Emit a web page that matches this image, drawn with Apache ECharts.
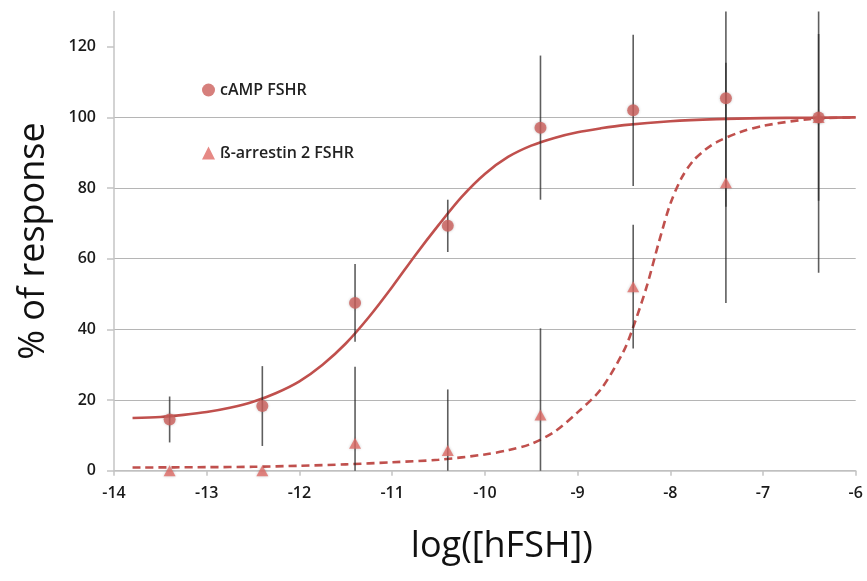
<!DOCTYPE html>
<html>
<head>
<meta charset="utf-8">
<script src="https://cdn.jsdelivr.net/npm/echarts@6/dist/echarts.min.js"></script>
<style>
html,body{margin:0;padding:0;background:#fff;}
#c{width:867px;height:581px;}
</style>
</head>
<body>
<div id="c"></div>
<script>
// Data
const doseX = [-13.4, -12.4, -11.4, -10.4, -9.4, -8.4, -7.4, -6.4];
const campMean = [14.5, 18.3, 47.5, 69.3, 97.1, 102.0, 105.4, 100.0];
const campErr  = [6.5, 11.3, 11.0, 7.4, 20.4, 21.4, 30.7, 23.6];
const arrMean  = [0, 0, 7.8, 5.7, 15.8, 52.1, 81.5, 100.0];
const arrErr   = [0, 0, 21.6, 17.3, 24.5, 17.5, 34.0, 44.0];

// fitted curves
const campFitX = [-13.8, -13.5, -13.25, -13.0, -12.75, -12.5, -12.25, -12.0, -11.75, -11.5, -11.25, -11.0, -10.75, -10.5, -10.25, -10.0, -9.75, -9.5, -9.25, -9.0, -8.75, -8.5, -8.0, -7.5, -7.0, -6.5, -6.0];
const campFitY = [14.9, 15.2, 15.8, 16.6, 17.8, 19.5, 22.0, 25.3, 30.0, 36.0, 43.5, 52.0, 61.0, 69.5, 77.5, 84.0, 88.8, 92.0, 94.2, 95.8, 96.9, 97.8, 98.9, 99.5, 99.8, 99.9, 100.0];
const arrFitX = [-13.8, -13.0, -12.5, -12.0, -11.5, -11.0, -10.5, -10.0, -9.75, -9.5, -9.25, -9.0, -8.75, -8.5, -8.375, -8.25, -8.125, -8.0, -7.875, -7.75, -7.625, -7.5, -7.25, -7.0, -6.5, -6.0];
const arrFitY = [0.9, 1.0, 1.1, 1.4, 1.8, 2.4, 3.1, 4.6, 5.8, 7.6, 11.0, 16.5, 23.0, 34.0, 42.5, 52.5, 64.5, 75.5, 83.0, 87.8, 90.8, 93.0, 95.8, 97.6, 99.5, 100.0];

const yTicks = [0, 20, 40, 60, 80, 100, 120];
const seriesNames = ['cAMP FSHR', 'ß-arrestin 2 FSHR'];

const Y_MIN = 0, Y_MAX = 130;
const zip = (a, b) => a.map((v, i) => [v, b[i]]);

function errData(means, errs) {
  return doseX.map((x, i) => [x, means[i] - errs[i], means[i] + errs[i]]);
}

function errRender(params, api) {
  const x = api.value(0);
  const lo = Math.max(Y_MIN, api.value(1));
  const hi = Math.min(Y_MAX, api.value(2));
  if (hi <= lo) return null;
  const p1 = api.coord([x, lo]);
  const p2 = api.coord([x, hi]);
  return {
    type: 'line',
    shape: { x1: p1[0], y1: p1[1], x2: p2[0], y2: p2[1] },
    style: { stroke: 'rgba(40,40,40,0.75)', lineWidth: 1.6 }
  };
}

const chart = echarts.init(document.getElementById('c'));
const FONT = '"Open Sans", "Noto Sans", sans-serif';
chart.setOption({
  animation: false,
  backgroundColor: '#fff',
  textStyle: { fontFamily: FONT },
  grid: { left: 114, right: 11.3, top: 11.4, bottom: 110.3 },
  legend: {
    orient: 'vertical',
    left: 197,
    top: 77,
    itemGap: 47,
    itemWidth: 13,
    itemHeight: 13,
    data: [
      { name: seriesNames[0], icon: 'circle' },
      { name: seriesNames[1], icon: 'triangle' }
    ],
    textStyle: { fontFamily: FONT, fontSize: 16, color: '#222', fontWeight: 600 }
  },
  xAxis: {
    type: 'value',
    min: -14, max: -6, interval: 1,
    name: 'log([hFSH])',
    nameLocation: 'middle',
    nameGap: 58,
    nameTextStyle: { fontFamily: FONT, fontSize: 36, color: '#111', padding: [0, 0, 0, 34] },
    axisLine: { show: true, onZero: false, lineStyle: { color: '#c4c4c4', width: 1.5 } },
    axisTick: { show: true, length: 5, lineStyle: { color: '#c4c4c4', width: 1.5 } },
    axisLabel: { margin: 15, fontFamily: FONT, fontSize: 16, fontWeight: 600, color: '#1a1a1a' },
    splitLine: { show: false }
  },
  yAxis: {
    type: 'value',
    min: Y_MIN, max: Y_MAX, interval: 20,
    name: '% of response',
    nameLocation: 'middle',
    nameGap: 62,
    nameTextStyle: { fontFamily: FONT, fontSize: 36, color: '#111' },
    axisLine: { show: true, lineStyle: { color: '#c4c4c4', width: 1.5 } },
    axisTick: { show: true, length: 7, lineStyle: { color: '#c4c4c4', width: 1.5 }, customValues: yTicks },
    axisLabel: { margin: 18, fontFamily: FONT, fontSize: 16, fontWeight: 600, color: '#1a1a1a', customValues: yTicks },
    splitLine: { show: true, showMaxLine: false, lineStyle: { color: '#b5b5b5', width: 1.2 } }
  },
  series: [
    {
      type: 'line', name: 'camp-fit', data: zip(campFitX, campFitY),
      smooth: 0.3, showSymbol: false, symbol: 'none',
      lineStyle: { color: '#c0504d', width: 2.6 }, z: 2, silent: true
    },
    {
      type: 'line', name: 'arr-fit', data: zip(arrFitX, arrFitY),
      smooth: 0.3, showSymbol: false, symbol: 'none',
      lineStyle: { color: '#c0504d', width: 2.6, type: [8, 5] }, z: 2, silent: true
    },
    {
      type: 'custom', name: 'camp-err', data: errData(campMean, campErr),
      renderItem: errRender, encode: { x: 0, y: [1, 2] }, z: 3, silent: true
    },
    {
      type: 'custom', name: 'arr-err', data: errData(arrMean, arrErr),
      renderItem: errRender, encode: { x: 0, y: [1, 2] }, z: 3, silent: true
    },
    {
      type: 'scatter', name: seriesNames[0], data: zip(doseX, campMean),
      symbol: 'circle', symbolSize: 12,
      itemStyle: { color: '#cc5f5b', shadowBlur: 3, shadowColor: 'rgba(0,0,0,0.25)' }, z: 5
    },
    {
      type: 'scatter', name: seriesNames[1], data: zip(doseX, arrMean),
      symbol: 'triangle', symbolSize: [12, 11],
      itemStyle: { color: '#e06c66', shadowBlur: 3, shadowColor: 'rgba(0,0,0,0.25)' }, z: 4
    }
  ]
});
</script>
</body>
</html>
